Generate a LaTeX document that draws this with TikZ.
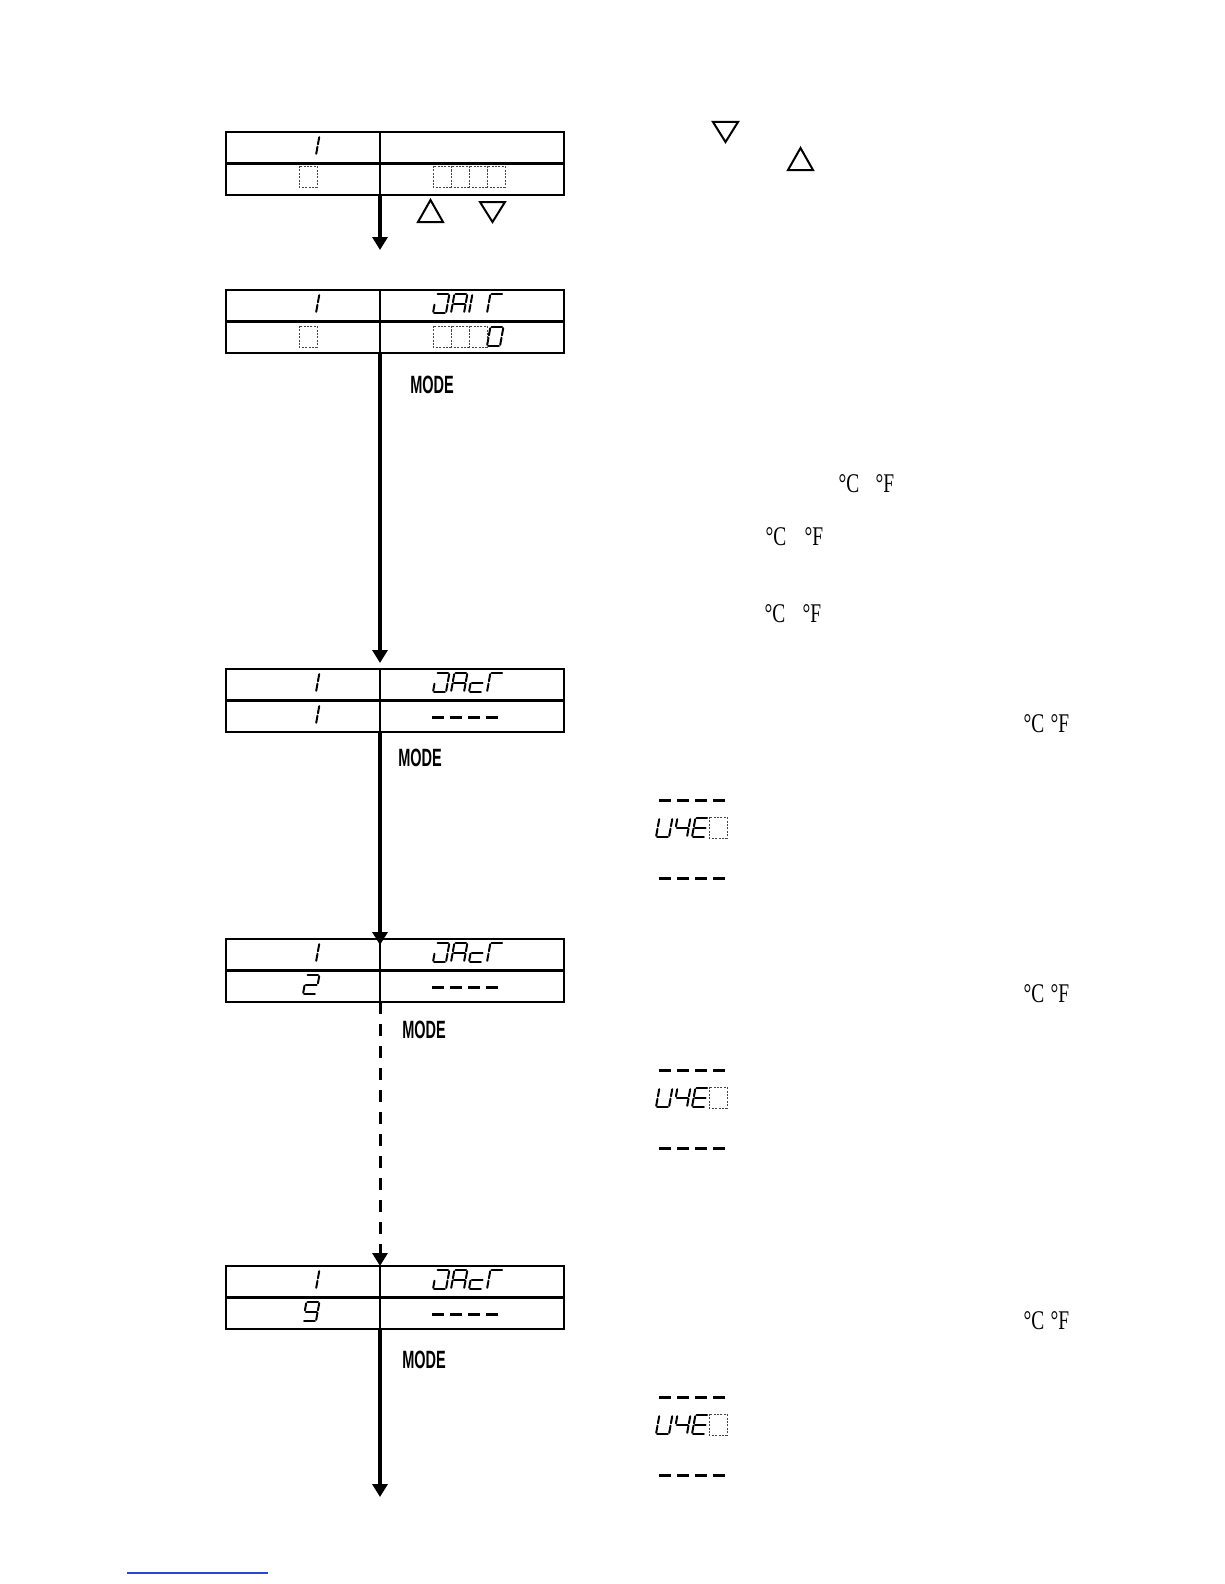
\documentclass[tikz,border=0pt]{standalone}
\usepackage{fontspec}
\newfontfamily\serifC{Liberation Serif}
\newfontfamily\sansM{Liberation Sans}
\usetikzlibrary{arrows.meta}
\definecolor{linkblue}{RGB}{40,70,220}
\definecolor{dotgray}{RGB}{70,70,70}
\def\SL{1}\def\SR{14}\def\SH{19}\def\SM{9.5}\def\SGap{1.2}
\newcommand\sega{\draw[segline] (\SL+\SGap,-\SH) -- (\SR-\SGap,-\SH);}
\newcommand\segb{\draw[segline] (\SR,-\SH+\SGap) -- (\SR,-\SM-\SGap);}
\newcommand\segc{\draw[segline] (\SR,-\SM+\SGap) -- (\SR,-\SGap);}
\newcommand\segd{\draw[segline] (\SL+\SGap,0) -- (\SR-\SGap,0);}
\newcommand\sege{\draw[segline] (\SL,-\SGap) -- (\SL,-\SM+\SGap);}
\newcommand\segf{\draw[segline] (\SL,-\SM-\SGap) -- (\SL,-\SH+\SGap);}
\newcommand\segg{\draw[segline] (\SL+\SGap,-\SM) -- (\SR-\SGap,-\SM);}
% #1 x of cell, #2 y of bottom, #3 segments
\newcommand\sevenseg[3]{\begin{scope}[shift={(#1,#2)},xslant=0.18]
  \foreach \s in {#3}{\csname seg\s\endcsname}\end{scope}}
% dotted digit box: #1 x, #2 y top
\newcommand\dotbox[2]{\draw[dotline] (#1,#2) rectangle ++(18,21);}
\newcommand\dashes[2]{\foreach \k in {0,1,2,3}{\draw[dashseg] (#1+18*\k,#2) -- ++(12,0);}}
\newcommand\degC{{\serifC\fontsize{27}{27}\selectfont\scalebox{0.72}[1]{\textdegree C}}}
\newcommand\degF{{\serifC\fontsize{27}{27}\selectfont\scalebox{0.72}[1]{\textdegree F}}}
% box contents for the JAcT boxes: #1 top y, #2 segments of lower-left digit
\newcommand\jactbox[2]{%
  \sevenseg{302}{#1+23}{b,c}
  \sevenseg{432}{#1+23}{a,b,c,d,e}
  \sevenseg{450}{#1+23}{a,b,c,e,f,g}
  \sevenseg{468}{#1+23}{d,e,g}
  \sevenseg{486}{#1+23}{a,e,f}
  \sevenseg{302}{#1+55}{#2}
  \dashes{432}{#1+48}}
\begin{document}
\begin{tikzpicture}[x=1pt,y=-1pt,
  segline/.style={line width=2pt,line cap=round},
  dotline/.style={line width=1pt,dotgray,dash pattern=on 2pt off 1.4pt},
  dashseg/.style={line width=3pt},
  cellL/.style={draw,line width=2.5pt,minimum width=154pt,minimum height=63pt,inner sep=0pt,outer sep=0pt},
  cellR/.style={draw,line width=2.5pt,minimum width=184pt,minimum height=63pt,inner sep=0pt,outer sep=0pt},
  flow/.style={line width=3.5pt,-{Triangle[width=15pt,length=13pt]}},
  keytri/.style={line width=2pt,line join=miter},
  modelabel/.style={inner sep=0pt,font=\sansM\bfseries\fontsize{25}{25}\selectfont},
  unitlabel/.style={inner sep=0pt}]
\useasboundingbox (0,0) rectangle (1224,1584);
\fill[white] (0,0) rectangle (1224,1584);
% boxes
\foreach \n/\t in {1/132,2/290,3/669,4/939,5/1266}{
  \node[cellL] (b\n l) at (303,\t+31.5) {};
  \node[cellR] (b\n r) at (472,\t+31.5) {};
  \draw[line width=2.2pt] (b\n l.west) -- (b\n r.east);
}
% ---- box 1
\sevenseg{302}{155}{b,c}
\dotbox{299}{166}
\foreach \k in {0,1,2,3}{\dotbox{433+18*\k}{166}}
% ---- box 2
\sevenseg{302}{313}{b,c}
\sevenseg{432}{313}{a,b,c,d,e}
\sevenseg{450}{313}{a,b,c,e,f,g}
\sevenseg{468}{313}{e,f}
\sevenseg{486}{313}{a,e,f}
\dotbox{299}{326}
\foreach \k in {0,1,2}{\dotbox{433+18*\k}{326}}
\sevenseg{486}{346}{a,b,c,d,e,f}
% ---- boxes 3,4,5
\jactbox{669}{b,c}
\jactbox{939}{a,b,g,e,d}
\jactbox{1266}{a,b,c,d,f,g}
% key triangles under box 1
\draw[keytri] (418,222) -- (443,222) -- (430.5,200) -- cycle;
\draw[keytri] (480,202) -- (505,202) -- (492.5,222) -- cycle;
% key triangles top right
\draw[keytri] (713,122) -- (738,122) -- (725.5,142) -- cycle;
\draw[keytri] (788,170) -- (813,170) -- (800.5,148) -- cycle;
% connectors
\coordinate (e1) at (380,250);
\coordinate (e5) at (380,1497);
\draw[flow] (b1l.south east) -- (e1);
\draw[flow,shorten >=6pt] (b2l.south east) -- (b3l.north east);
\draw[flow] (b3l.south east) -- ([yshift=-6pt]b4l.north east);
\draw[flow,line width=3pt,dash pattern=on 12pt off 10pt] (b4l.south east) -- (b5l.north east);
\draw[flow] (b5l.south east) -- (e5);
% MODE labels
\node[modelabel] (m2) at (432,385) {\scalebox{0.58}[1]{MODE}};
\node[modelabel] (m3) at (420,758) {\scalebox{0.58}[1]{MODE}};
\node[modelabel] (m4) at (424,1030) {\scalebox{0.58}[1]{MODE}};
\node[modelabel] (m5) at (424,1360) {\scalebox{0.58}[1]{MODE}};
% unit labels
\node[unitlabel] (c1) at (849,484) {\degC};
\node[unitlabel] (f1) at (885,484) {\degF};
\node[unitlabel] (c2) at (776,537) {\degC};
\node[unitlabel] (f2) at (814,537) {\degF};
\node[unitlabel] (c3) at (775,614) {\degC};
\node[unitlabel] (f3) at (812,614) {\degF};
\foreach \o/\nm in {0/a,270/b,597/c}{
  \node[unitlabel] (uc\nm) at (1034,724+\o) {\degC};
  \node[unitlabel] (uf\nm) at (1060,724+\o) {\degF};
  \dashes{659}{800+\o}
  \sevenseg{655}{837+\o}{b,c,d,e,f}
  \sevenseg{673}{837+\o}{f,g,b,c}
  \sevenseg{691}{837+\o}{a,d,e,f,g}
  \draw[dotline] (709,817+\o) rectangle ++(18,21);
  \dashes{659}{878+\o}
}
% link underline
\draw[linkblue,line width=1.2pt] (127,1573) -- (268,1573);
\end{tikzpicture}
\end{document}
